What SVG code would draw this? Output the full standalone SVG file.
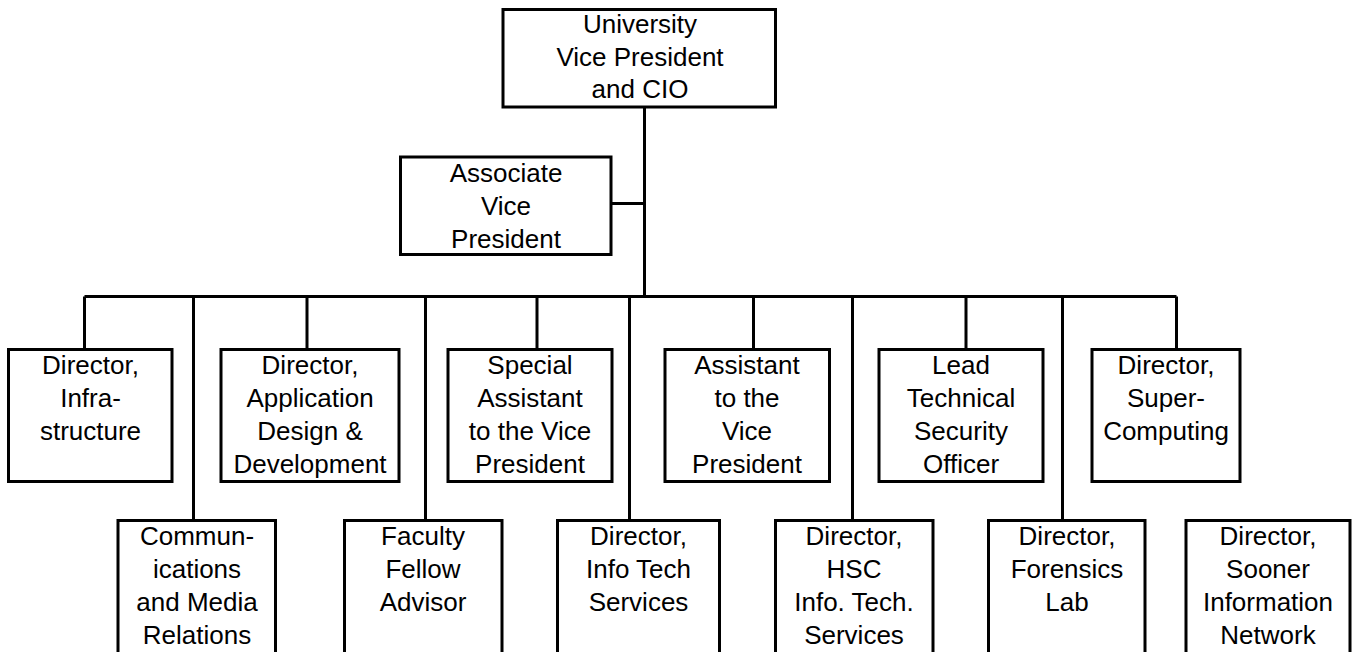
<svg xmlns="http://www.w3.org/2000/svg" width="1354" height="652" viewBox="0 0 1354 652">
<style>
.box{fill:#fff;stroke:#000;stroke-width:3}
.ln{fill:none;stroke:#000;stroke-width:3}
text{font-family:"Liberation Sans",Arial,sans-serif;font-size:26px;fill:#000;text-anchor:middle}
</style>
<rect width="1354" height="652" fill="#fff"/>
<g id="connectors">
<path class="ln" d="M644.5 107 V296.5 M611 203.5 H644.5 M84.5 296.5 H1176.5"/>
<path class="ln" d="M84.5 296.5 V349.5 M307 296.5 V349.5 M537 296.5 V349.5 M753.5 296.5 V349.5 M966 296.5 V349.5 M1176.5 296.5 V349.5"/>
<path class="ln" d="M193.5 296.5 V520.5 M425.5 296.5 V520.5 M629.5 296.5 V520.5 M852.5 296.5 V520.5 M1062.5 296.5 V520.5"/>
</g>
<g id="cio"><rect class="box" x="503" y="9.5" width="272.5" height="97.5"/>
<text x="640" y="33">University</text><text x="640" y="65.5">Vice President</text><text x="640" y="98">and CIO</text></g>
<g id="avp"><rect class="box" x="400.5" y="157" width="210.5" height="97.5"/>
<text x="506" y="182">Associate</text><text x="506" y="215">Vice</text><text x="506" y="248">President</text></g>
<g id="infra"><rect class="box" x="8.5" y="349.5" width="163.5" height="132"/>
<text x="90.5" y="374">Director,</text><text x="90.5" y="407">Infra-</text><text x="90.5" y="440">structure</text></g>
<g id="appdev"><rect class="box" x="221" y="349.5" width="178" height="132"/>
<text x="310" y="374">Director,</text><text x="310" y="407">Application</text><text x="310" y="440">Design &amp;</text><text x="310" y="473">Development</text></g>
<g id="special"><rect class="box" x="448" y="349.5" width="164" height="132"/>
<text x="530" y="374">Special</text><text x="530" y="407">Assistant</text><text x="530" y="440">to the Vice</text><text x="530" y="473">President</text></g>
<g id="assistant"><rect class="box" x="665" y="349.5" width="164.5" height="132"/>
<text x="747" y="374">Assistant</text><text x="747" y="407">to the</text><text x="747" y="440">Vice</text><text x="747" y="473">President</text></g>
<g id="security"><rect class="box" x="879" y="349.5" width="164" height="132"/>
<text x="961" y="374">Lead</text><text x="961" y="407">Technical</text><text x="961" y="440">Security</text><text x="961" y="473">Officer</text></g>
<g id="super"><rect class="box" x="1092" y="349.5" width="148" height="132"/>
<text x="1166" y="374">Director,</text><text x="1166" y="407">Super-</text><text x="1166" y="440">Computing</text></g>
<g id="comm"><rect class="box" x="118" y="520.5" width="157.5" height="140"/>
<text x="197" y="545">Commun-</text><text x="197" y="578">ications</text><text x="197" y="611">and Media</text><text x="197" y="644">Relations</text></g>
<g id="faculty"><rect class="box" x="344.5" y="520.5" width="157.5" height="140"/>
<text x="423" y="545">Faculty</text><text x="423" y="578">Fellow</text><text x="423" y="611">Advisor</text></g>
<g id="its"><rect class="box" x="557.5" y="520.5" width="162" height="140"/>
<text x="638.5" y="545">Director,</text><text x="638.5" y="578">Info Tech</text><text x="638.5" y="611">Services</text></g>
<g id="hsc"><rect class="box" x="775.5" y="520.5" width="157.5" height="140"/>
<text x="854" y="545">Director,</text><text x="854" y="578">HSC</text><text x="854" y="611">Info. Tech.</text><text x="854" y="644">Services</text></g>
<g id="forensics"><rect class="box" x="988.5" y="520.5" width="156.5" height="140"/>
<text x="1067" y="545">Director,</text><text x="1067" y="578">Forensics</text><text x="1067" y="611">Lab</text></g>
<g id="sooner"><rect class="box" x="1186" y="520.5" width="164" height="140"/>
<text x="1268" y="545">Director,</text><text x="1268" y="578">Sooner</text><text x="1268" y="611">Information</text><text x="1268" y="644">Network</text></g>
</svg>
